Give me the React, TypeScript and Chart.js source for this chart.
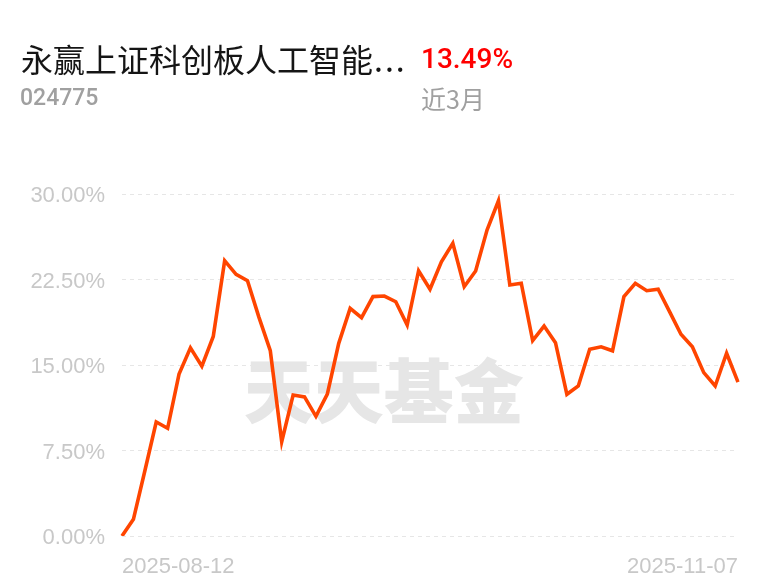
import React, { useEffect, useRef } from "react";
import { Chart, registerables } from "chart.js";

Chart.register(...registerables);

const fundName = "永赢上证科创板人工智能";
const ellipsis = "...";
const fundCode = "024775";
const periodReturn = "13.49%";
const periodLabel = "近3月";
const watermarkText = "天天基金";

const xTickLabels = ["2025-08-12", "2025-11-07"];
const yTicks = [0, 7.5, 15, 22.5, 30];

const returns = [
  0.0, 1.46, 5.7, 10.0, 9.45, 14.2, 16.5, 14.9, 17.5, 24.15,
  22.95, 22.4, 19.2, 16.25, 8.27, 12.37, 12.2, 10.5, 12.45, 16.9,
  19.97, 19.15, 21.0, 21.05, 20.55, 18.5, 23.27, 21.64, 24.06, 25.67,
  21.87, 23.25, 26.84, 29.41, 22.02, 22.17, 17.15, 18.42, 16.96, 12.43,
  13.16, 16.38, 16.6, 16.25, 21.0, 22.17, 21.52, 21.64, 19.68, 17.69,
  16.6, 14.33, 13.16, 16.03, 13.49,
];

const categories = returns.map((_, i) => String(i));

const watermarkPlugin = {
  id: "watermark",
  beforeDatasetsDraw(chart: any) {
    const { ctx, chartArea } = chart;
    const w = chartArea.right - chartArea.left;
    const h = chartArea.bottom - chartArea.top;
    ctx.save();
    ctx.font = '900 70px "Noto Sans CJK SC"';
    ctx.fillStyle = "#e6e6e6";
    ctx.textAlign = "center";
    ctx.textBaseline = "middle";
    ctx.fillText(watermarkText, chartArea.left + w * 0.425, chartArea.top + h * 0.578);
    ctx.restore();
  },
};

export default function App() {
  const canvasRef = useRef<HTMLCanvasElement | null>(null);

  useEffect(() => {
    if (!canvasRef.current) return;
    const n = returns.length;
    const chart = new Chart(canvasRef.current, {
      type: "line",
      data: {
        labels: categories,
        datasets: [
          {
            data: returns,
            borderColor: "#ff4500",
            borderWidth: 3.6,
            pointRadius: 0,
            tension: 0,
            fill: false,
          },
        ],
      },
      options: {
        animation: false,
        responsive: false,
        devicePixelRatio: 1,
        layout: { padding: { left: 0, right: 30, top: 194, bottom: 0 } },
        plugins: { legend: { display: false }, tooltip: { enabled: false } },
        scales: {
          x: {
            grid: { display: false, drawTicks: false },
            border: { display: false },
            afterFit: (scale: any) => {
              scale.height = 51;
            },
            ticks: {
              autoSkip: false,
              maxRotation: 0,
              minRotation: 0,
              align: "inner",
              padding: 18,
              color: "#c8c8c8",
              font: { family: '"Liberation Sans", Arial, sans-serif', size: 22 },
              callback: (_v: any, i: number) =>
                i === 0 ? xTickLabels[0] : i === n - 1 ? xTickLabels[1] : "",
            },
          },
          y: {
            min: 0,
            max: 30,
            afterFit: (scale: any) => {
              scale.width = 122;
            },
            afterBuildTicks: (scale: any) => {
              scale.ticks = yTicks.map((v) => ({ value: v }));
            },
            grid: { color: "#e6e6e6", lineWidth: 1, drawTicks: false },
            border: { display: false, dash: [4, 4] },
            ticks: {
              padding: 17,
              labelOffset: 2,
              color: "#c8c8c8",
              font: { family: '"Liberation Sans", Arial, sans-serif', size: 22 },
              callback: (v: any) => Number(v).toFixed(2) + "%",
            },
          },
        },
      },
      plugins: [watermarkPlugin],
    });
    return () => chart.destroy();
  }, []);

  return (
    <div style={{ position: "fixed", left: 0, top: 0, width: 768, height: 587, background: "#fff", overflow: "hidden" }}>
      <canvas ref={canvasRef} width={768} height={587} style={{ position: "absolute", left: 0, top: 0, width: 768, height: 587 }} />
      <div
        style={{
          position: "absolute", left: 21, top: 42, fontSize: 32, lineHeight: "32px",
          fontFamily: '"Noto Sans CJK SC", sans-serif', color: "#151515", whiteSpace: "nowrap",
        }}
      >
        {fundName}
        <span style={{ letterSpacing: 2, marginLeft: 1 }}>{ellipsis}</span>
      </div>
      <div
        style={{
          position: "absolute", left: 421, top: 45, fontSize: 28, lineHeight: "28px",
          fontFamily: "Roboto, sans-serif", fontWeight: 500, color: "#ff0000", whiteSpace: "nowrap",
        }}
      >
        {periodReturn}
      </div>
      <div
        style={{
          position: "absolute", left: 20, top: 86, fontSize: 23, lineHeight: "23px",
          fontFamily: "Roboto, sans-serif", fontWeight: 500, color: "#a0a0a0", whiteSpace: "nowrap",
        }}
      >
        {fundCode}
      </div>
      <div
        style={{
          position: "absolute", left: 421, top: 86, fontSize: 25, lineHeight: "25px",
          fontFamily: '"Noto Sans CJK SC", sans-serif', color: "#a0a0a0", whiteSpace: "nowrap",
        }}
      >
        {periodLabel}
      </div>
    </div>
  );
}
